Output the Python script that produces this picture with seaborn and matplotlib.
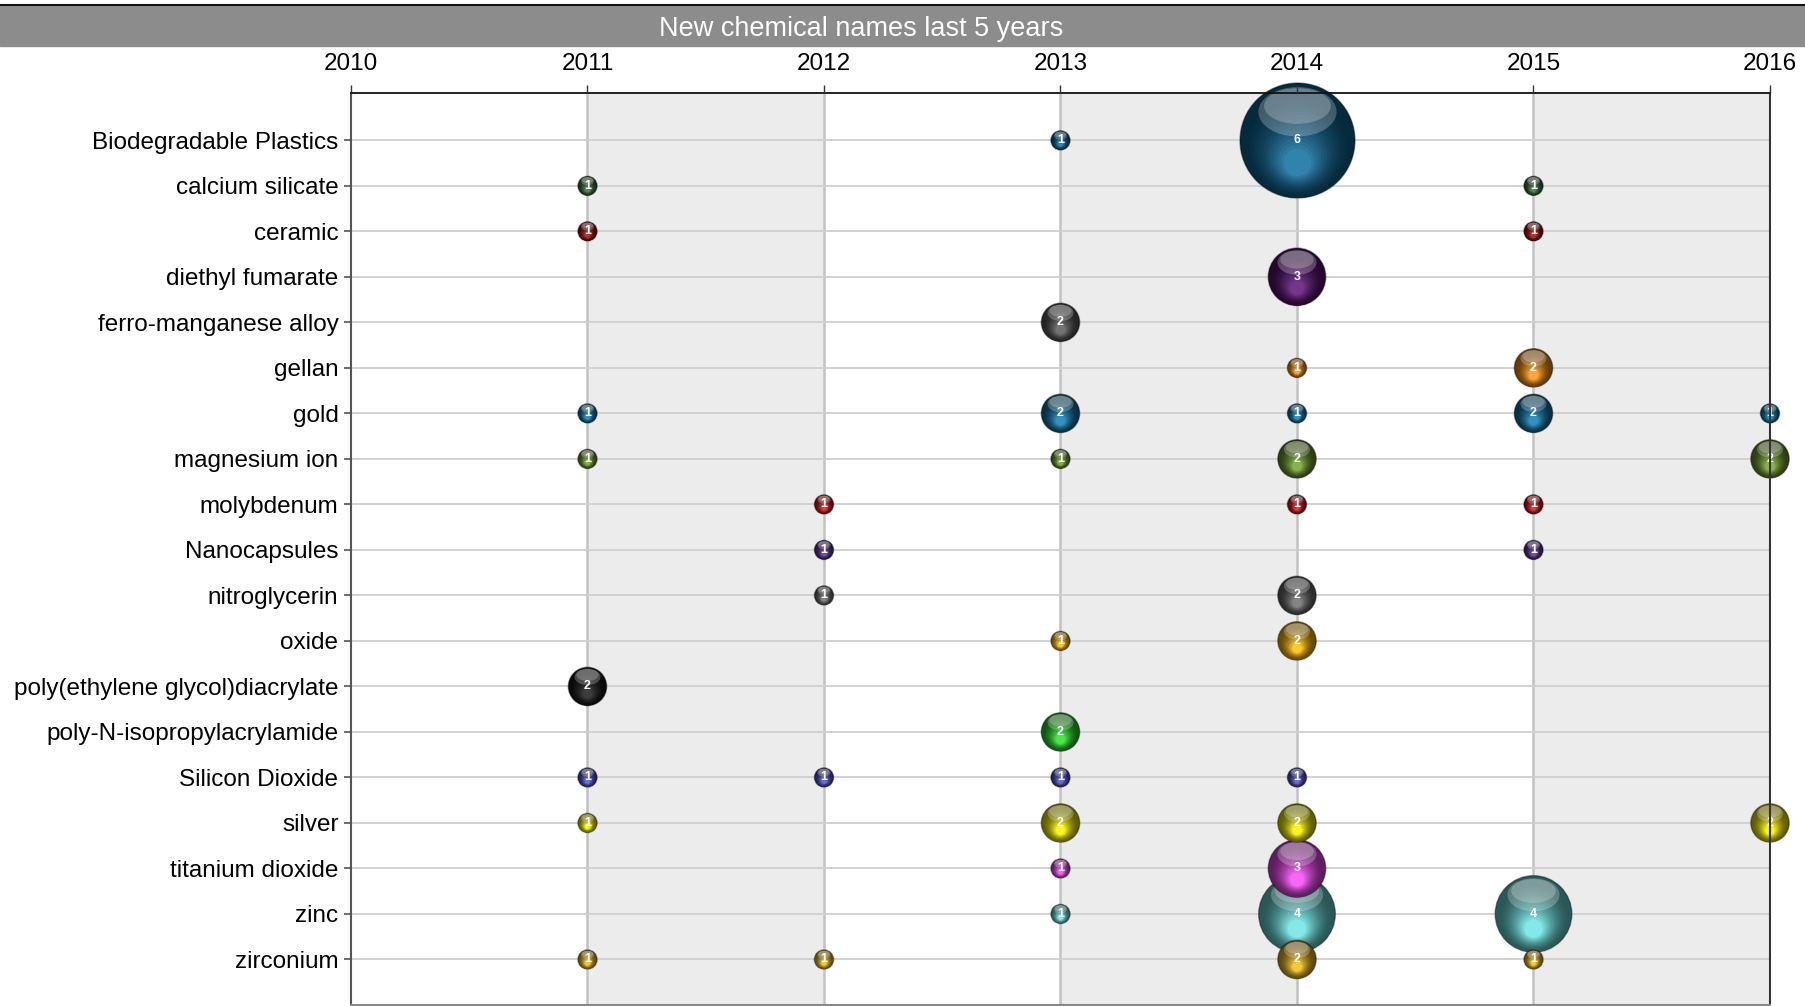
import numpy as np
import pandas as pd
import matplotlib
matplotlib.use('Agg')
import matplotlib.pyplot as plt
import seaborn as sns
from matplotlib.path import Path
from matplotlib.patches import Rectangle
from matplotlib.lines import Line2D
from matplotlib.colors import to_rgb

# rows, top to bottom
chemicals = ['Biodegradable Plastics', 'calcium silicate', 'ceramic', 'diethyl fumarate',
             'ferro-manganese alloy', 'gellan', 'gold', 'magnesium ion', 'molybdenum',
             'Nanocapsules', 'nitroglycerin', 'oxide', 'poly(ethylene glycol)diacrylate',
             'poly-N-isopropylacrylamide', 'Silicon Dioxide', 'silver', 'titanium dioxide',
             'zinc', 'zirconium']
chem_colors = ['#0b5880', '#2f5f2f', '#8a0e0e', '#4a1060', '#4a4a4a', '#d47a10', '#0e6690',
               '#5e8426', '#b01414', '#4a2a80', '#5a5a5a', '#d89a08', '#151515', '#22b822',
               '#4444aa', '#c8c400', '#c83cc8', '#58b8b8', '#c49a18']
years = [2010, 2011, 2012, 2013, 2014, 2015, 2016]

point_chem = ['Biodegradable Plastics', 'Biodegradable Plastics',
              'calcium silicate', 'calcium silicate',
              'ceramic', 'ceramic',
              'diethyl fumarate',
              'ferro-manganese alloy',
              'gellan', 'gellan',
              'gold', 'gold', 'gold', 'gold', 'gold',
              'magnesium ion', 'magnesium ion', 'magnesium ion', 'magnesium ion',
              'molybdenum', 'molybdenum', 'molybdenum',
              'Nanocapsules', 'Nanocapsules',
              'nitroglycerin', 'nitroglycerin',
              'oxide', 'oxide',
              'poly(ethylene glycol)diacrylate',
              'poly-N-isopropylacrylamide',
              'Silicon Dioxide', 'Silicon Dioxide', 'Silicon Dioxide', 'Silicon Dioxide',
              'silver', 'silver', 'silver', 'silver',
              'titanium dioxide', 'titanium dioxide',
              'zinc', 'zinc', 'zinc',
              'zirconium', 'zirconium', 'zirconium', 'zirconium']
point_year = [2013, 2014,
              2011, 2015,
              2011, 2015,
              2014,
              2013,
              2014, 2015,
              2011, 2013, 2014, 2015, 2016,
              2011, 2013, 2014, 2016,
              2012, 2014, 2015,
              2012, 2015,
              2012, 2014,
              2013, 2014,
              2011,
              2013,
              2011, 2012, 2013, 2014,
              2011, 2013, 2014, 2016,
              2013, 2014,
              2013, 2014, 2015,
              2011, 2012, 2014, 2015]
point_count = [1, 6,
               1, 1,
               1, 1,
               3,
               2,
               1, 2,
               1, 2, 1, 2, 1,
               1, 1, 2, 2,
               1, 1, 1,
               1, 1,
               1, 2,
               1, 2,
               2,
               2,
               1, 1, 1, 1,
               1, 2, 2, 2,
               1, 3,
               1, 4, 4,
               1, 1, 2, 1]

sns.set_style('white')
plt.rcParams['font.family'] = ['Liberation Sans', 'DejaVu Sans']

df = pd.DataFrame({'chemical': point_chem, 'year': point_year, 'count': point_count})
df['row'] = df['chemical'].map({c: i for i, c in enumerate(chemicals)})
palette = dict(zip(chemicals, chem_colors))
size_map = {v: (13.8 * v) ** 2 for v in sorted(set(point_count))}


def blob(cx, cy, rx, ry):
    # ellipse marker on the scale of a unit circle (corner points fix the scaling)
    circ = Path.unit_circle()
    verts = np.vstack([[[-1, -1], [1, 1]], circ.vertices * [rx, ry] + [cx, cy]])
    codes = np.concatenate([[Path.MOVETO, Path.MOVETO], circ.codes])
    return Path(verts, codes)


def dark(c, f):
    return tuple(np.array(to_rgb(c)) * f)


def light(c):
    rgb = np.clip(np.array(to_rgb(c)) * 1.2 + 0.03, 0, 1)
    return tuple(rgb * 0.88 + 0.12)


def mix(a, b, t):
    return tuple(np.array(a) * (1 - t) + np.array(b) * t)


fig = plt.figure(figsize=(18.06, 10.06), dpi=100)
ax = fig.add_axes([351 / 1806, 1 / 1006, (1770 - 351) / 1806, (1006 - 93 - 1) / 1006])

# background bands and grid
for x0 in (2011, 2013, 2015):
    ax.axvspan(x0, x0 + 1, color='#ececec', lw=0, zorder=0)
for yr in years[1:-1]:
    ax.axvline(yr, color='#c2c2c2', lw=1.8, zorder=1)
for i in range(len(chemicals)):
    ax.axhline(i, color='#cfcfcf', lw=1.3, zorder=1)

# glossy bubbles, biggest first so small ones sit on top
levels = sorted(df['count'].unique(), reverse=True)
nsteps = 16
for li, lvl in enumerate(levels):
    sub = df[df['count'] == lvl]
    z = 10 + li * 30
    base_pal = {c: dark(palette[c], 0.48) for c in sub['chemical'].unique()}
    sns.scatterplot(data=sub, x='year', y='row', hue='chemical', palette=base_pal,
                    size='count', sizes=size_map, legend=False, edgecolor=(0, 0, 0, 0.4),
                    linewidth=1, zorder=z, clip_on=False, ax=ax)
    cols = [palette[c] for c in sub['chemical']]
    s = sub['count'].map(size_map).values
    for k in range(nsteps):
        t = k / (nsteps - 1)
        r = 0.92 - 0.68 * t
        fc = [mix(dark(c, 0.48), light(c), t ** 1.6) for c in cols]
        ax.scatter(sub['year'], sub['row'], s=s, marker=blob(0, -0.08 - 0.3 * t, r, r),
                   c=fc, linewidths=0, zorder=z + 1 + k, clip_on=False)
    ax.scatter(sub['year'], sub['row'], s=s, marker=blob(0, 0.5, 0.68, 0.43),
               c='white', alpha=0.24, linewidths=0, zorder=z + 20, clip_on=False)
    ax.scatter(sub['year'], sub['row'], s=s, marker=blob(0, 0.6, 0.58, 0.31),
               c='white', alpha=0.22, linewidths=0, zorder=z + 21, clip_on=False)
    for x, y, v in zip(sub['year'], sub['row'], sub['count']):
        ax.text(x, y, str(v), ha='center', va='center', color='white', fontsize=9,
                fontweight='bold', zorder=z + 25, clip_on=False)

ax.set_xlim(2010, 2016)
ax.set_ylim(19.0, -1.04)
ax.set_xlabel('')
ax.set_ylabel('')
ax.xaxis.tick_top()
ax.set_xticks(years)
ax.set_xticklabels([str(y) for y in years])
ax.set_yticks(range(len(chemicals)))
ax.set_yticklabels(chemicals)
ax.tick_params(axis='x', top=True, bottom=False, length=6, width=1, color='#333333',
               pad=7, labelsize=17.5, labelcolor='black')
ax.tick_params(axis='y', left=True, length=5, width=1.2, color='#555555',
               pad=4, labelsize=17.5, labelcolor='black')
ax.grid(False)
ax.xaxis.set_zorder(300)
ax.yaxis.set_zorder(300)
for name, col, lw in [('left', '#555555', 1.5), ('top', '#111111', 1.3),
                      ('right', '#333333', 1.5), ('bottom', '#888888', 1.5)]:
    ax.spines[name].set_visible(True)
    ax.spines[name].set_color(col)
    ax.spines[name].set_linewidth(lw)
    ax.spines[name].set_zorder(300)

# title bar
fig.add_artist(Rectangle((0, 1 - 46 / 1006), 1, 40 / 1006, transform=fig.transFigure,
                         color='#8c8c8c', zorder=0))
fig.add_artist(Line2D([0, 1], [1 - 5 / 1006] * 2, transform=fig.transFigure,
                      color='#111111', lw=1.5))
fig.text(861 / 1806, 1 - 29 / 1006, 'New chemical names last 5 years', color='white',
         fontsize=19.5, ha='center', va='center')

fig.savefig('out.png', dpi=100)
